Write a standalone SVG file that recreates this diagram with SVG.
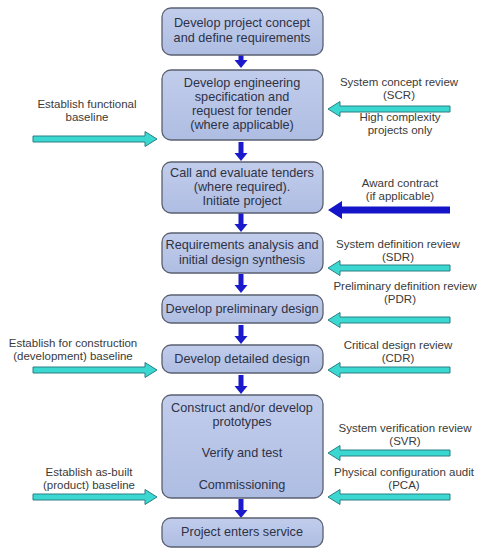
<svg xmlns="http://www.w3.org/2000/svg" width="481" height="550" viewBox="0 0 481 550">
<style>
.box{fill:url(#bg);stroke:#5a6070;stroke-width:1.3}
.t{font-family:"Liberation Sans",Arial,sans-serif;font-size:11.5px;fill:#3a3a3a;text-anchor:middle}
.tb{font-family:"Liberation Sans",Arial,sans-serif;font-size:12.7px;fill:#2e3246;text-anchor:middle}
.cy{fill:#3ad8d0;stroke:#2b7f86;stroke-width:1}
.dn{fill:#1a1acc}
</style>
<defs>
<linearGradient id="bg" x1="0" y1="0" x2="0" y2="1">
<stop offset="0" stop-color="#c2cdec"/>
<stop offset="1" stop-color="#aebde2"/>
</linearGradient>
<path id="ra" d="M0,-3 H112 V-7.5 L124,0 L112,7.5 V3 H0 Z"/>
<path id="la" d="M0,-3 H-110 V-7.5 L-122,0 L-110,7.5 V3 H0 Z"/>
<path id="da" d="M-2.5,0 V-11 H2.5 V0 H6.5 L0,8 L-6.5,0 Z"/>
</defs>
<rect width="481" height="550" fill="#fff"/>
<g id="connectors">
<use href="#da" class="dn" x="241" y="60"/>
<use href="#da" class="dn" x="241" y="153"/>
<use href="#da" class="dn" x="241" y="224"/>
<use href="#da" class="dn" x="241" y="285"/>
<use href="#da" class="dn" x="241" y="336"/>
<use href="#da" class="dn" x="241" y="386"/>
<use href="#da" class="dn" x="241" y="510"/>
<use href="#ra" class="cy" x="33" y="139"/>
<use href="#ra" class="cy" x="33" y="370"/>
<use href="#ra" class="cy" x="33" y="497"/>
<use href="#la" class="cy" x="450" y="109"/>
<use href="#la" class="cy" x="450" y="268"/>
<use href="#la" class="cy" x="450" y="320"/>
<use href="#la" class="cy" x="450" y="370"/>
<use href="#la" class="cy" x="450" y="453"/>
<use href="#la" class="cy" x="450" y="497"/>
<path d="M450,206.5 H342 V201 L328,210 L342,219 V213.5 H450 Z" fill="#1414c8"/>
</g>
<g id="n1"><rect class="box" x="162" y="8" width="161" height="47" rx="9"/>
<text class="tb" x="242" y="27">Develop project concept</text><text class="tb" x="242" y="42">and define requirements</text></g>
<g id="n2"><rect class="box" x="162" y="70" width="161" height="70" rx="9"/>
<text class="tb" x="242" y="87">Develop engineering</text><text class="tb" x="242" y="101">specification and</text><text class="tb" x="242" y="115">request for tender</text><text class="tb" x="242" y="129">(where applicable)</text></g>
<g id="n3"><rect class="box" x="162" y="162" width="161" height="51" rx="9"/>
<text class="tb" x="242" y="177">Call and evaluate tenders</text><text class="tb" x="242" y="191">(where required).</text><text class="tb" x="242" y="205">Initiate project</text></g>
<g id="n4"><rect class="box" x="162" y="233" width="161" height="40" rx="9"/>
<text class="tb" x="242" y="249">Requirements analysis and</text><text class="tb" x="242" y="264">initial design synthesis</text></g>
<g id="n5"><rect class="box" x="162" y="295" width="161" height="28" rx="9"/>
<text class="tb" x="242" y="313">Develop preliminary design</text></g>
<g id="n6"><rect class="box" x="162" y="345" width="161" height="28" rx="9"/>
<text class="tb" x="242" y="363">Develop detailed design</text></g>
<g id="n7"><rect class="box" x="162" y="395" width="161" height="103" rx="9"/>
<text class="tb" x="242" y="412">Construct and/or develop</text><text class="tb" x="242" y="426">prototypes</text><text class="tb" x="242" y="457">Verify and test</text><text class="tb" x="242" y="489">Commissioning</text></g>
<g id="n8"><rect class="box" x="162" y="518" width="161" height="29" rx="9"/>
<text class="tb" x="242" y="536">Project enters service</text></g>
<g id="labels">
<text class="t" x="87" y="108">Establish functional</text><text class="t" x="87" y="121">baseline</text>
<text class="t" x="399" y="86">System concept review</text><text class="t" x="399" y="99">(SCR)</text>
<text class="t" x="400" y="121">High complexity</text><text class="t" x="400" y="134">projects only</text>
<text class="t" x="400" y="187">Award contract</text><text class="t" x="400" y="200">(if applicable)</text>
<text class="t" x="398" y="248">System definition review</text><text class="t" x="398" y="261">(SDR)</text>
<text class="t" x="405" y="290">Preliminary definition review</text><text class="t" x="400" y="303">(PDR)</text>
<text class="t" x="398" y="349">Critical design review</text><text class="t" x="398" y="362">(CDR)</text>
<text class="t" x="73" y="347">Establish for construction</text><text class="t" x="73" y="360">(development) baseline</text>
<text class="t" x="405" y="432">System verification review</text><text class="t" x="405" y="445">(SVR)</text>
<text class="t" x="404" y="476">Physical configuration audit</text><text class="t" x="404" y="489">(PCA)</text>
<text class="t" x="89" y="476">Establish as-built</text><text class="t" x="89" y="489">(product) baseline</text>
</g>
</svg>
